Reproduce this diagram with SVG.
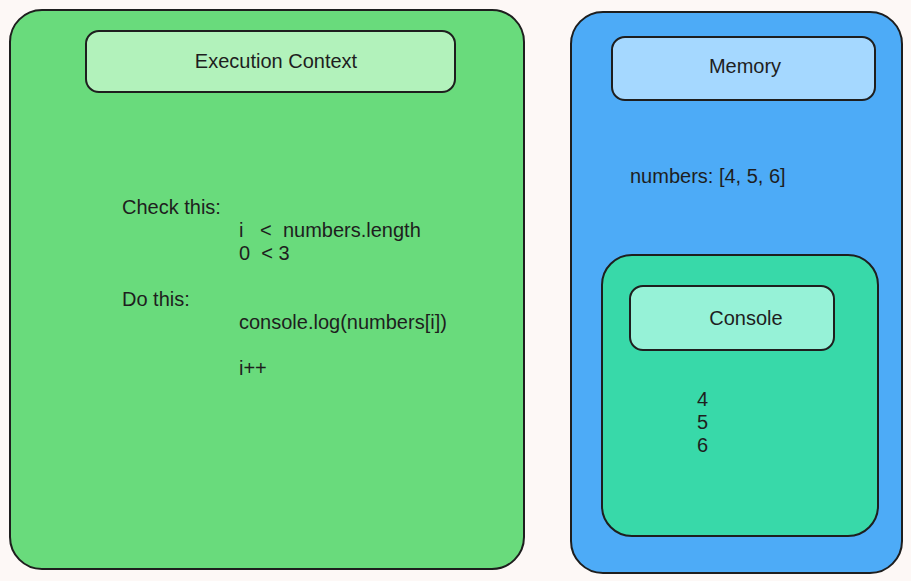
<svg xmlns="http://www.w3.org/2000/svg" width="911" height="581" viewBox="0 0 911 581">
<style>
.box{stroke:#1e1e1e;stroke-width:2;}
.t{font-family:"Liberation Sans",Arial,sans-serif;font-size:20px;fill:#1e1e1e;}
.c{text-anchor:middle;}
</style>
<rect x="0" y="0" width="911" height="581" fill="#fdf8f6"/>
<g id="execution-context">
<rect class="box" x="10" y="10" width="514" height="559" rx="32" fill="#69db7c"/>
</g>
<g id="execution-context-header">
<rect class="box" x="86" y="31" width="369" height="61" rx="13" fill="#b2f2bb"/>
<text class="t c" x="276" y="68">Execution Context</text>
</g>
<g id="execution-context-code">
<text class="t" xml:space="preserve"><tspan x="122" y="214">Check this:</tspan><tspan x="239" y="237">i   &lt;  numbers.length</tspan><tspan x="239" y="260">0  &lt; 3</tspan><tspan x="122" y="306">Do this:</tspan><tspan x="239" y="329">console.log(numbers[i])</tspan><tspan x="239" y="375">i++</tspan></text>
</g>
<g id="memory">
<rect class="box" x="571" y="12" width="331" height="561" rx="32" fill="#4dabf7"/>
</g>
<g id="memory-header">
<rect class="box" x="612" y="37" width="263" height="63" rx="13" fill="#a5d8ff"/>
<text class="t c" x="745" y="73">Memory</text>
</g>
<g id="memory-content">
<text class="t" x="630" y="183">numbers: [4, 5, 6]</text>
</g>
<g id="console">
<rect class="box" x="602" y="255" width="276" height="281" rx="30" fill="#38d9a9"/>
</g>
<g id="console-header">
<rect class="box" x="630" y="286" width="204" height="64" rx="13" fill="#96f2d7"/>
<text class="t c" x="746" y="325">Console</text>
</g>
<g id="console-output">
<text class="t"><tspan x="697" y="406">4</tspan><tspan x="697" y="429">5</tspan><tspan x="697" y="452">6</tspan></text>
</g>
<g id="connectors"></g>
</svg>
